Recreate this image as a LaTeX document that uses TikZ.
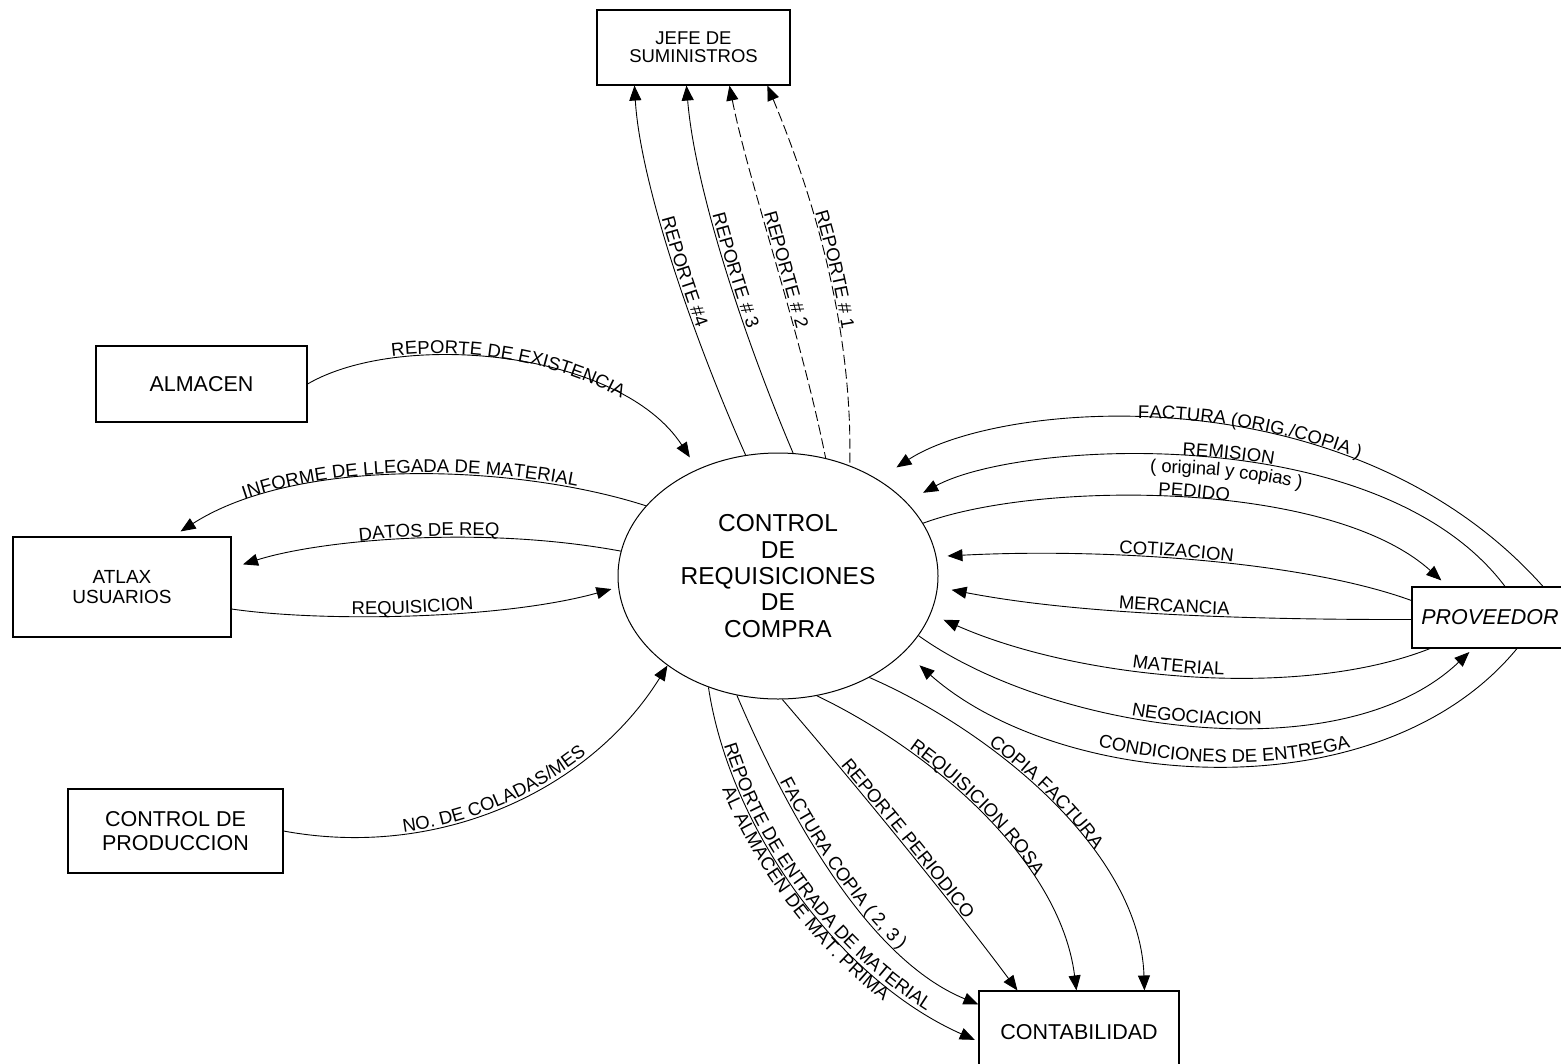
\documentclass[tikz,border=0pt]{standalone}
\usepackage{fontspec}
\setmainfont{Liberation Sans}
\usetikzlibrary{arrows.meta,decorations.text,shapes.geometric}
\newcommand\lblfont{\fontsize{18.5}{20}\selectfont}
\newcommand\boxfont{\fontsize{21.5}{24}\selectfont}
\newcommand\jefefont{\fontsize{18.5}{18}\selectfont}
\newcommand\atlfont{\fontsize{19}{19.5}\selectfont}
\newcommand\ctrfont{\fontsize{24.5}{26.3}\selectfont}
\begin{document}
\begin{tikzpicture}[x=1pt,y=-1pt,
  ent/.style={draw,line width=1.1pt,align=center,inner sep=0pt,font=\boxfont},
  conn/.style={line width=0.9pt},
  tip/.style={-{Triangle[length=15pt,width=12pt]}},
  pit/.style={{Triangle[length=15pt,width=12pt]}-},
  lbl/.style={postaction={decorate,decoration={text along path,text={|\lblfont|#1},text align=center,raise=2pt}}},
  lbll/.style 2 args={postaction={decorate,decoration={text along path,text={|\lblfont|#2},text align={center,left indent=#1},raise=2pt}}},
  lblr/.style 2 args={postaction={decorate,decoration={text along path,text={|\lblfont|#2},text align={center,right indent=#1},raise=2pt}}},
  dsh/.style={dash pattern=on 10pt off 4pt}
]
\useasboundingbox (0,0) rectangle (1561,1063);

% entities
\node[ellipse,draw,line width=1pt,minimum width=320pt,minimum height=246pt,inner sep=0pt,align=center,font=\ctrfont] (C) at (778,576) {CONTROL\\DE\\REQUISICIONES\\DE\\COMPRA};
\node[ent,minimum width=193pt,minimum height=75pt,font=\jefefont] (jefe) at (693.5,47.5) {JEFE DE\\SUMINISTROS};
\node[ent,minimum width=211pt,minimum height=76pt] (alm) at (201.5,384) {ALMACEN};
\node[ent,minimum width=218pt,minimum height=100pt,font=\atlfont] (atlax) at (122,587) {ATLAX\\USUARIOS};
\node[ent,minimum width=215pt,minimum height=84pt] (prod) at (175.5,831) {CONTROL DE\\PRODUCCION};
\node[ent,minimum width=156pt,minimum height=61pt,font=\boxfont\itshape] (prov) at (1490,617.5) {PROVEEDOR};
\node[ent,minimum width=200pt,minimum height=83pt] (cont) at (1079,1032.5) {CONTABILIDAD};

% reports to JEFE DE SUMINISTROS
\draw[conn,pit,lbl={REPORTE {\#}4}] ([xshift=38pt]jefe.south west) .. controls (640,180) and (690,330) .. (C.105.9);
\draw[conn,pit,lbl={REPORTE {\#} 3}] ([xshift=90pt]jefe.south west) .. controls (695,190) and (745,340) .. (C.83.1);
\draw[conn,pit,dsh,lbl={REPORTE {\#} 2}] ([xshift=133pt]jefe.south west) .. controls (748,180) and (800,330) .. (C.68.3);
\draw[conn,pit,dsh,lbl={REPORTE {\#} 1}] ([xshift=171pt]jefe.south west) .. controls (815,200) and (853,330) .. (C.57.5);

% left side
\draw[conn,tip,shorten >=14pt,lblr={16pt}{REPORTE DE EXISTENCIA}] (alm.east) .. controls (400,330) and (620,350) .. (C.127.3);
\draw[conn,pit,lbl={INFORME DE LLEGADA DE MATERIAL}] ([xshift=-51pt,yshift=5pt]atlax.north east) .. controls (300,455) and (520,465) .. (C.152.3);
\draw[conn,pit,shorten <=12pt,lbll={8pt}{DATOS DE REQ}] ([yshift=19pt]atlax.east) .. controls (320,540) and (480,525) .. (C.171.7);
\draw[conn,tip,shorten >=7pt,lblr={26pt}{REQUISICION}] ([yshift=-22pt]atlax.east) .. controls (320,622) and (500,620) .. (C.184.8);
\draw[conn,tip,lbl={NO. DE COLADAS/MES}] (prod.east) .. controls (440,860) and (590,790) .. (C.219.6);

% right side
\draw[conn,pit,shorten <=22pt,lbll={44pt}{FACTURA  (ORIG./COPIA )}] (C.44) .. controls (1000,400) and (1350,370) .. ([xshift=53pt]prov.north);
\draw[conn,pit,shorten <=19pt,
  postaction={decorate,decoration={text along path,text={|\lblfont|REMISION},text align={center,left indent=15pt},raise=2pt}},
  postaction={decorate,decoration={text along path,text={|\lblfont|( original y copias )},text align={center,left indent=15pt},raise=-16pt}}]
  (C.30.3) .. controls (1020,440) and (1380,420) .. ([xshift=15pt]prov.north);
\draw[conn,tip,shorten >=9pt,lbl={PEDIDO}] (C.20.1) .. controls (1040,480) and (1330,480) .. ([xshift=-42pt]prov.north);
\draw[conn,pit,shorten <=11pt,lbl={COTIZACION}] (C.7.4) .. controls (1100,548) and (1300,560) .. ([yshift=17pt]prov.west);
\draw[conn,pit,shorten <=14pt,lbl={MERCANCIA}] (C.-4.9) .. controls (1030,605) and (1150,620) .. ([yshift=-2pt]prov.west);
\draw[conn,pit,shorten <=14pt,lbl={MATERIAL}] (C.-14.9) .. controls (1080,680) and (1300,700) .. ([xshift=-60pt]prov.south);
\draw[conn,tip,shorten >=5pt,lbl={NEGOCIACION}] (C.-23.2) .. controls (1050,730) and (1340,775) .. ([xshift=-17pt]prov.south);
\draw[conn,pit,shorten <=20pt,lbll={20pt}{CONDICIONES DE ENTREGA}] (C.-31.5) .. controls (1060,790) and (1380,815) .. ([xshift=27pt]prov.south);

% bottom to CONTABILIDAD
\draw[conn,tip,shorten >=4pt,
  postaction={decorate,decoration={text along path,text={|\lblfont|REPORTE DE ENTRADA DE MATERIAL},text align=center,raise=2pt}},
  postaction={decorate,decoration={text along path,text={|\lblfont|AL ALMACEN DE MAT. PRIMA},text align=center,raise=-15pt}}]
  (C.238.1) .. controls (730,830) and (840,980) .. ([yshift=-9pt]cont.west);
\draw[conn,tip,lbl={FACTURA COPIA ( 2, 3 )}] (C.251) .. controls (790,820) and (870,960) .. ([yshift=-14pt]cont.north west);
\draw[conn,tip,lbl={REPORTE PERIODICO}] (C.272.3) .. controls (860,790) and (950,900) .. ([xshift=39pt]cont.north west);
\draw[conn,tip,lblr={16pt}{REQUISICION ROSA}] (C.288.3) .. controls (930,750) and (1060,860) .. ([xshift=98pt]cont.north west);
\draw[conn,tip,lblr={14pt}{COPIA FACTURA}] (C.312.1) .. controls (990,730) and (1140,850) .. ([xshift=166pt]cont.north west);
\end{tikzpicture}
\end{document}
